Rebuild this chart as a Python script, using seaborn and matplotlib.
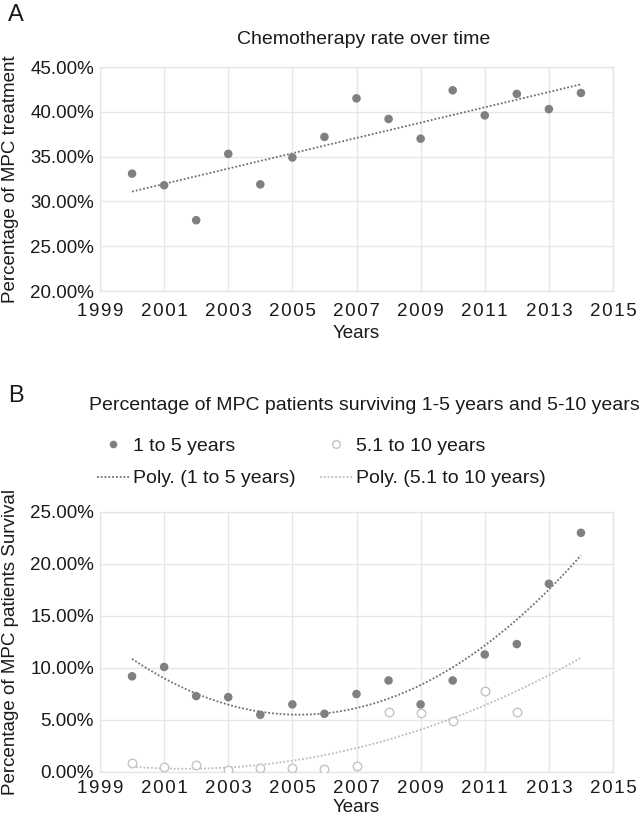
import numpy as np
import matplotlib
matplotlib.use("Agg")
import matplotlib.pyplot as plt
from matplotlib.ticker import PercentFormatter
from matplotlib.lines import Line2D
import seaborn as sns

# data (percent)
years = [2000, 2001, 2002, 2003, 2004, 2005, 2006, 2007, 2008, 2009, 2010, 2011, 2012, 2013, 2014]
chemo_rate = [33.1, 31.8, 27.9, 35.3, 31.9, 34.9, 37.2, 41.5, 39.2, 37.0, 42.4, 39.6, 42.0, 40.3, 42.1]

surv_1_5 = [9.2, 10.1, 7.3, 7.2, 5.5, 6.5, 5.6, 7.5, 8.8, 6.5, 8.8, 11.3, 12.3, 18.1, 23.0]
years_5_10 = [2000, 2001, 2002, 2003, 2004, 2005, 2006, 2007, 2008, 2009, 2010, 2011, 2012]
surv_5_10 = [0.87, 0.48, 0.68, 0.19, 0.42, 0.39, 0.32, 0.55, 5.8, 5.7, 4.9, 7.8, 5.8]

x_ticks = [1999, 2001, 2003, 2005, 2007, 2009, 2011, 2013, 2015]

sns.set_theme(style="whitegrid")
plt.rcParams['font.family'] = ['Liberation Sans', 'DejaVu Sans']

dark = "#808080"
trend_dark = "#6e6e6e"
light = "#c4c4c4"
trend_light = "#bcbcbc"
grid_c = "#e6e6e6"
txt = "#1a1a1a"
dotted = (0, (1, 1.1))

W, H = 639, 826
fig = plt.figure(figsize=(W / 100, H / 100), dpi=100)
ax_a = fig.add_axes([100 / W, 1 - 291 / H, 513 / W, 224 / H])
ax_b = fig.add_axes([100 / W, 1 - 772 / H, 513 / W, 260 / H])


def style_axes(ax, ylim, yticks, ylabel, xpad, xlab_y):
    ax.set_xlim(1999, 2015)
    ax.set_xticks(x_ticks)
    ax.set_xticklabels(["\u200a".join(str(t)) for t in x_ticks])
    ax.set_ylim(*ylim)
    ax.set_yticks(yticks)
    ax.yaxis.set_major_formatter(PercentFormatter(decimals=2))
    ax.grid(True, color=grid_c, linewidth=1)
    for s in ax.spines.values():
        s.set_color(grid_c)
        s.set_linewidth(1)
    ax.tick_params(axis="both", labelsize=13.5, colors=txt, length=0)
    ax.tick_params(axis="y", pad=4.3)
    ax.tick_params(axis="x", pad=xpad)
    ax.set_xlabel("Years", fontsize=13.5, color=txt)
    ax.set_ylabel(ylabel, fontsize=13.5, color=txt)
    h = ax.get_position().height * H
    ax.xaxis.set_label_coords(0.5, -xlab_y / h)
    ax.yaxis.set_label_coords(-81 / 513, 0.5)


# Panel A
sns.scatterplot(x=years, y=chemo_rate, ax=ax_a, color=dark, s=38, edgecolor="none", zorder=3)
coef = np.polyfit(years, chemo_rate, 1)
xx = np.linspace(years[0], years[-1], 100)
ax_a.plot(xx, np.polyval(coef, xx), color=trend_dark, linestyle=dotted, linewidth=1.3, zorder=2)
style_axes(ax_a, (20, 45), [20, 25, 30, 35, 40, 45], "Percentage of MPC treatment", 8.5, 34)

# Panel B
sns.scatterplot(x=years, y=surv_1_5, ax=ax_b, color=dark, s=38, edgecolor="none", zorder=3)
sns.scatterplot(x=years_5_10, y=surv_5_10, ax=ax_b, facecolor="white", edgecolor=light,
                linewidth=1.0, s=38, zorder=3)
c1 = np.polyfit(years, surv_1_5, 2)
c2 = np.polyfit(years_5_10, surv_5_10, 2)
ax_b.plot(xx, np.polyval(c1, xx), color=trend_dark, linestyle=dotted, linewidth=1.3, zorder=2)
ax_b.plot(xx, np.polyval(c2, xx), color=trend_light, linestyle=dotted, linewidth=1.3, zorder=2)
style_axes(ax_b, (0, 25), [0, 5, 10, 15, 20, 25], "Percentage of MPC patients Survival", 6, 27)

ax_a.set_title("Chemotherapy rate over time", fontsize=14, color=txt, pad=0,
               x=(364 - 100) / 513, y=(291 - 39) / 224, va="center")
fig.text(89 / W, 1 - 405 / H, "Percentage of MPC patients surviving 1-5 years and 5-10 years",
         fontsize=14, color=txt, va="center", ha="left")

handles = [
    Line2D([], [], marker="o", linestyle="none", color=dark, markersize=5.5, markeredgewidth=0),
    Line2D([], [], color=trend_dark, linestyle=dotted, linewidth=1.3),
    Line2D([], [], marker="o", linestyle="none", markerfacecolor="white", markeredgecolor=light,
           markersize=5.5, markeredgewidth=1),
    Line2D([], [], color=trend_light, linestyle=dotted, linewidth=1.3),
]
labels = ["1 to 5 years", "Poly. (1 to 5 years)", "5.1 to 10 years", "Poly. (5.1 to 10 years)"]
leg = fig.legend(handles, labels, ncol=2, loc="center left", bbox_to_anchor=(97 / W, 1 - 462.5 / H),
                 frameon=False, fontsize=14, handlelength=1.65, handletextpad=0.2,
                 columnspacing=1.25, labelspacing=0.75, borderpad=0, borderaxespad=0)
for t in leg.get_texts():
    t.set_color(txt)

fig.text(16 / W, 1 - 15 / H, "A", fontsize=17, color=txt, va="center", ha="center")
fig.text(16 / W, 1 - 396 / H, "B", fontsize=17, color=txt, va="center", ha="center")

fig.savefig("out.png", dpi=100, facecolor="white")
